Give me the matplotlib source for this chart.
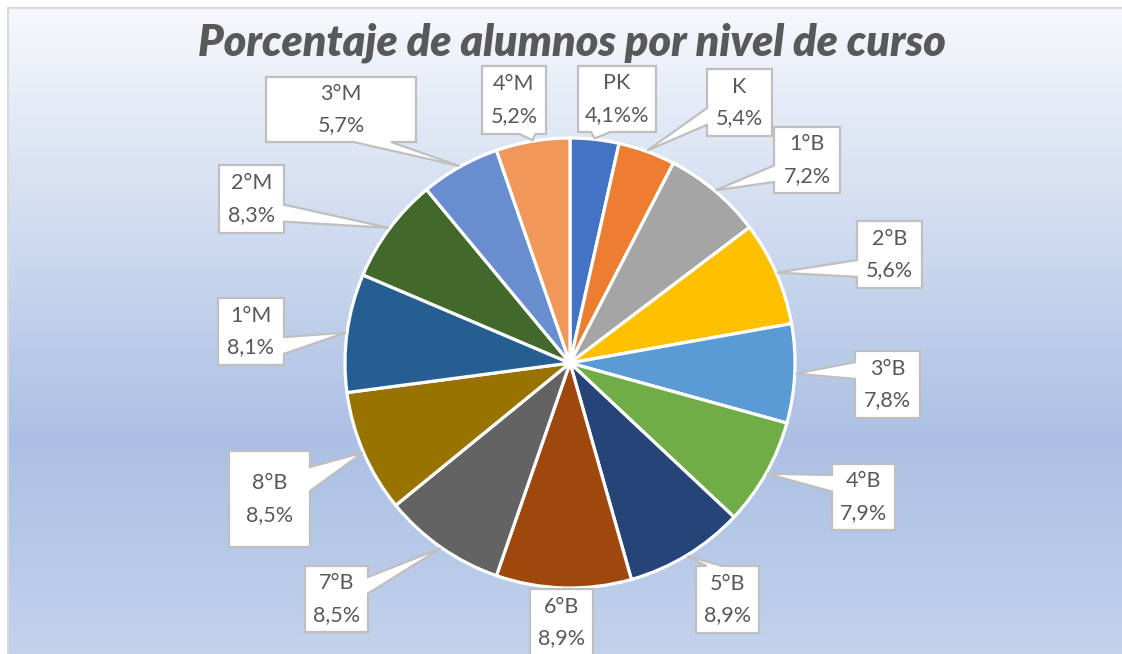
import numpy as np
import matplotlib
matplotlib.use("Agg")
import matplotlib.pyplot as plt
from matplotlib.patches import Polygon

# Data
niveles = ["PK", "K", "1°B", "2°B", "3°B", "4°B", "5°B", "6°B",
           "7°B", "8°B", "1°M", "2°M", "3°M", "4°M"]
# slice sizes as drawn in the picture
porcentajes = [3.5, 4.1, 7.1, 7.5, 7.1, 7.7, 8.6, 9.7, 8.8, 8.8, 8.5, 7.6, 5.7, 5.3]
# text typed on the data labels
etiquetas = ["4,1%%", "5,4%", "7,2%", "5,6%", "7,8%", "7,9%", "8,9%", "8,9%",
             "8,5%", "8,5%", "8,1%", "8,3%", "5,7%", "5,2%"]
colores = ["#4472C4", "#ED7D31", "#A5A5A5", "#FFC000", "#5B9BD5", "#70AD47",
           "#264478", "#9E480E", "#636363", "#997300", "#255E91", "#43682B",
           "#698ED0", "#F1975A"]

# Layout (pixel coords, y measured from the top)
W, H = 1122, 654
CX, CY, R = 570, 363, 225
# label boxes: x0, x1, y0, y1
cajas = [
    (578, 656, 66, 132),
    (707, 772, 69, 136),
    (774, 840, 127, 193),
    (857, 922, 221, 288),
    (855, 920, 351, 418),
    (832, 895, 464, 530),
    (696, 759, 566, 633),
    (530, 593, 589, 656),
    (305, 368, 566, 632),
    (229, 310, 451, 547),
    (218, 284, 298, 365),
    (219, 284, 165, 233),
    (266, 416, 77, 142),
    (482, 546, 66, 134),
]

TXT = "#595959"
FONT = "Lato"

fig = plt.figure(figsize=(W / 100, H / 100), dpi=100)
ax = fig.add_axes([0, 0, 1, 1])

# background gradient (chart area starts at 8,8)
ys = np.arange(8, H + 1)
stops_y = [8, 440, H]
stops_c = np.array([[0.965, 0.973, 0.988],
                    [0.671, 0.753, 0.894],
                    [0.765, 0.824, 0.925]])
grad = np.stack([np.interp(ys, stops_y, stops_c[:, k]) for k in range(3)], axis=-1)
grad = grad[:, None, :]
ax.imshow(grad, extent=[8, W, 0, H - 8], aspect="auto", zorder=0)
ax.plot([8, W], [H - 8, H - 8], color="#D9D9D9", lw=1.5, zorder=1)
ax.plot([8, 8], [0, H - 8], color="#D9D9D9", lw=1.5, zorder=1)

# pie
ax.pie(porcentajes, colors=colores, center=(CX, H - CY), radius=R,
       startangle=90, counterclock=False,
       wedgeprops=dict(edgecolor="white", linewidth=2.3))
ax.set_xlim(0, W)
ax.set_ylim(0, H)
ax.set_aspect("auto")
ax.axis("off")

ax.text(572, H - 43, "Porcentaje de alumnos por nivel de curso",
        ha="center", va="center", fontsize=31, fontweight="heavy",
        fontstyle="italic", color=TXT, family=FONT)


def callout(x0, x1, y0, y1, tx, ty):
    # rectangle with a wedge pointing to (tx, ty), image coords
    cx, cy = (x0 + x1) / 2, (y0 + y1) / 2
    w, h = x1 - x0, y1 - y0
    dx, dy = tx - cx, ty - cy
    top = [(x0, y0), (x1, y0)]
    right = [(x1, y0), (x1, y1)]
    bottom = [(x1, y1), (x0, y1)]
    left = [(x0, y1), (x0, y0)]
    inside = x0 <= tx <= x1 and y0 <= ty <= y1
    if not inside:
        if abs(dx) * h > abs(dy) * w:
            if dy > 0:
                a, b = y0 + h * 7 / 12, y0 + h * 10 / 12
            else:
                a, b = y0 + h * 2 / 12, y0 + h * 5 / 12
            if dx > 0:
                right = [(x1, y0), (x1, a), (tx, ty), (x1, b), (x1, y1)]
            else:
                left = [(x0, y1), (x0, b), (tx, ty), (x0, a), (x0, y0)]
        else:
            if dx > 0:
                a, b = x0 + w * 7 / 12, x0 + w * 10 / 12
            else:
                a, b = x0 + w * 2 / 12, x0 + w * 5 / 12
            if dy > 0:
                bottom = [(x1, y1), (b, y1), (tx, ty), (a, y1), (x0, y1)]
            else:
                top = [(x0, y0), (a, y0), (tx, ty), (b, y0), (x1, y0)]
    pts = top + right[1:] + bottom[1:] + left[1:]
    return [(px, H - py) for px, py in pts]


acum = np.cumsum([0] + porcentajes[:-1])
total = sum(porcentajes)
for i, nivel in enumerate(niveles):
    ang = np.deg2rad((acum[i] + porcentajes[i] / 2) / total * 360)
    tx = CX + (R + 1) * np.sin(ang)
    ty = CY - (R + 1) * np.cos(ang)
    x0, x1, y0, y1 = cajas[i]
    poly = Polygon(callout(x0, x1, y0, y1, tx, ty), closed=True,
                   facecolor="white", edgecolor="#BFBFBF", lw=1.6, zorder=5)
    ax.add_patch(poly)
    ax.text((x0 + x1) / 2, H - (y0 + y1) / 2, nivel + "\n" + etiquetas[i],
            ha="center", va="center", fontsize=15.5, color=TXT, family=FONT,
            linespacing=1.7, zorder=6)

fig.savefig("out.png", dpi=100)
